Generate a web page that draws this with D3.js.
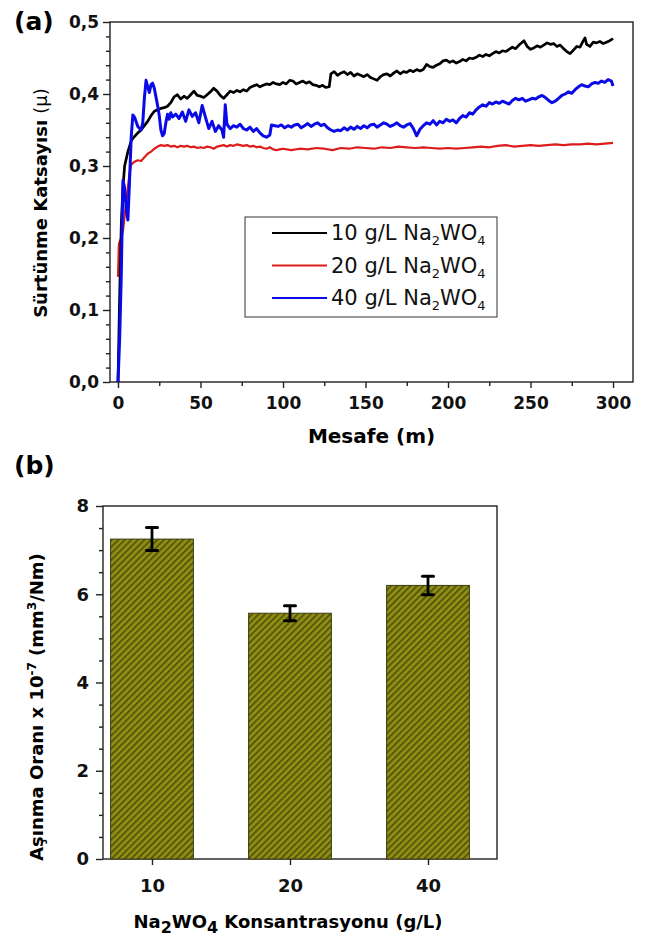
<!DOCTYPE html>
<html><head><meta charset="utf-8">
<script src="https://cdn.jsdelivr.net/npm/d3@7/dist/d3.min.js"></script>
<style>body{margin:0;background:#fff}svg{display:block}text{font-family:"DejaVu Sans",sans-serif}</style>
</head><body><svg id="c" width="649" height="937"></svg>
<script>
// ---------- DATA (a) ----------
const series10 = [[0,0],[1,0.12],[2,0.22],[3,0.27],[4,0.3],[6,0.32],[8,0.335],[10,0.341],[12,0.346],[14,0.35],[16,0.356],[18,0.362],[20,0.37],[22,0.376],[24,0.378],[26,0.38],[28,0.381],[30,0.383],[32,0.388],[34,0.396],[36,0.399],[38,0.393],[40,0.397],[42,0.394],[44,0.399],[46,0.404],[48,0.398],[50,0.397],[52,0.395],[54,0.399],[56,0.403],[58,0.408],[60,0.404],[62,0.398],[64,0.394],[66,0.399],[68,0.404],[70,0.402],[72,0.405],[74,0.403],[76,0.406],[78,0.404],[80,0.409],[82,0.411],[84,0.413],[86,0.41],[88,0.412],[90,0.414],[92,0.413],[94,0.416],[96,0.414],[98,0.413],[100,0.416],[102,0.414],[104,0.419],[106,0.418],[108,0.414],[110,0.416],[112,0.418],[114,0.415],[116,0.417],[118,0.413],[120,0.412],[122,0.41],[124,0.412],[126,0.409],[128,0.41],[129,0.428],[131,0.431],[133,0.426],[135,0.429],[137,0.431],[139,0.427],[141,0.43],[143,0.425],[145,0.428],[147,0.426],[149,0.424],[151,0.427],[153,0.423],[155,0.421],[157,0.419],[159,0.424],[161,0.427],[163,0.428],[165,0.425],[167,0.429],[169,0.432],[171,0.428],[173,0.431],[175,0.43],[177,0.433],[179,0.431],[181,0.434],[183,0.432],[185,0.434],[187,0.441],[189,0.438],[191,0.437],[193,0.44],[195,0.442],[197,0.446],[199,0.447],[201,0.444],[203,0.446],[205,0.443],[207,0.445],[209,0.448],[211,0.446],[213,0.45],[215,0.449],[217,0.451],[219,0.454],[221,0.452],[223,0.455],[225,0.453],[227,0.456],[229,0.459],[231,0.457],[233,0.46],[235,0.459],[237,0.462],[239,0.465],[241,0.463],[243,0.468],[245,0.472],[246,0.474],[248,0.466],[250,0.462],[252,0.464],[254,0.467],[256,0.465],[258,0.468],[260,0.471],[262,0.469],[264,0.47],[266,0.466],[268,0.468],[270,0.463],[272,0.459],[274,0.456],[276,0.461],[278,0.466],[280,0.465],[282,0.474],[283,0.478],[284,0.469],[286,0.466],[288,0.472],[290,0.471],[292,0.473],[294,0.47],[296,0.472],[298,0.474],[300,0.477]];
const series20 = [[0,0.146],[0.5,0.19],[1,0.195],[2,0.2],[3,0.21],[4,0.23],[5,0.25],[6,0.27],[7,0.29],[8,0.302],[10,0.306],[12,0.308],[14,0.307],[16,0.312],[18,0.317],[20,0.32],[22,0.324],[24,0.327],[26,0.329],[28,0.328],[30,0.329],[32,0.327],[34,0.328],[36,0.326],[38,0.328],[40,0.327],[42,0.328],[44,0.326],[46,0.327],[48,0.325],[50,0.326],[52,0.325],[54,0.327],[56,0.326],[58,0.324],[60,0.327],[62,0.328],[64,0.329],[66,0.327],[68,0.329],[70,0.328],[72,0.33],[74,0.329],[76,0.328],[78,0.329],[80,0.327],[82,0.328],[84,0.326],[86,0.327],[88,0.325],[90,0.324],[92,0.326],[94,0.323],[96,0.322],[98,0.323],[100,0.324],[105,0.322],[110,0.324],[115,0.323],[120,0.325],[125,0.324],[130,0.322],[135,0.325],[140,0.324],[145,0.326],[150,0.325],[155,0.324],[160,0.326],[165,0.325],[170,0.327],[175,0.326],[180,0.325],[185,0.326],[190,0.325],[195,0.324],[200,0.325],[205,0.324],[210,0.325],[215,0.326],[220,0.327],[225,0.326],[230,0.328],[235,0.329],[240,0.327],[245,0.328],[250,0.329],[255,0.328],[260,0.329],[265,0.33],[270,0.329],[275,0.33],[280,0.33],[285,0.331],[290,0.33],[295,0.331],[300,0.332]];
const series40 = [[0,0],[1,0.06],[2,0.15],[3,0.28],[4,0.27],[5,0.24],[6,0.225],[7,0.28],[8,0.34],[9,0.371],[10,0.368],[12,0.355],[14,0.35],[15,0.36],[16,0.395],[17,0.419],[18,0.41],[19,0.402],[20,0.413],[21,0.415],[22,0.408],[23,0.396],[24,0.384],[25,0.37],[26,0.35],[27,0.342],[28,0.345],[29,0.36],[30,0.372],[31,0.365],[32,0.374],[33,0.368],[35,0.372],[37,0.366],[39,0.375],[41,0.362],[43,0.378],[45,0.369],[47,0.374],[49,0.36],[51,0.384],[53,0.368],[55,0.352],[57,0.362],[59,0.348],[61,0.356],[63,0.35],[64,0.34],[65,0.385],[66,0.358],[68,0.352],[70,0.356],[72,0.354],[74,0.358],[76,0.352],[78,0.35],[80,0.354],[82,0.348],[84,0.352],[86,0.346],[88,0.342],[90,0.34],[92,0.343],[93,0.357],[95,0.356],[97,0.355],[99,0.357],[101,0.353],[103,0.356],[105,0.354],[107,0.357],[109,0.358],[111,0.353],[113,0.356],[115,0.359],[117,0.355],[119,0.358],[121,0.36],[123,0.356],[125,0.358],[127,0.353],[129,0.35],[131,0.348],[133,0.35],[135,0.349],[137,0.353],[139,0.35],[141,0.354],[143,0.351],[145,0.355],[147,0.352],[149,0.356],[151,0.353],[153,0.357],[155,0.358],[157,0.354],[159,0.357],[161,0.36],[163,0.358],[165,0.355],[167,0.357],[169,0.36],[171,0.356],[173,0.354],[175,0.357],[177,0.359],[179,0.352],[181,0.342],[183,0.351],[185,0.356],[187,0.36],[189,0.358],[191,0.363],[193,0.357],[195,0.362],[197,0.36],[199,0.365],[201,0.362],[203,0.364],[205,0.36],[207,0.366],[209,0.37],[211,0.368],[213,0.374],[215,0.372],[217,0.378],[219,0.382],[221,0.385],[223,0.383],[225,0.388],[227,0.386],[229,0.389],[231,0.387],[233,0.39],[235,0.388],[237,0.386],[239,0.391],[241,0.394],[243,0.392],[245,0.394],[247,0.39],[249,0.392],[251,0.394],[253,0.393],[255,0.396],[257,0.398],[259,0.395],[261,0.391],[263,0.388],[265,0.39],[267,0.394],[269,0.398],[271,0.4],[273,0.403],[275,0.401],[277,0.406],[279,0.41],[281,0.413],[283,0.411],[285,0.41],[287,0.414],[289,0.416],[291,0.415],[293,0.418],[295,0.416],[297,0.42],[299,0.418],[300,0.411]];
const legendLabels = ["10 g/L", "20 g/L", "40 g/L"];
const lineColors = ["#000000", "#dd1c1c", "#0a0ae6"];
const xTicksA = [0, 50, 100, 150, 200, 250, 300];
const yTicksA = [0, 0.1, 0.2, 0.3, 0.4, 0.5];

// ---------- DATA (b) ----------
const categories = ["10", "20", "40"];
const wearRate = [7.25, 5.57, 6.2];
const wearErr = [0.26, 0.17, 0.21];
const yTicksB = [0, 2, 4, 6, 8];

const svg = d3.select("#c");
const defs = svg.append("defs");
const pat = defs.append("pattern").attr("id","hatch").attr("patternUnits","userSpaceOnUse")
  .attr("width",4.6).attr("height",4.6).attr("patternTransform","rotate(45)");
pat.append("rect").attr("width",4.6).attr("height",4.6).attr("fill","#8e8e14");
pat.append("line").attr("x1",0.8).attr("y1",0).attr("x2",0.8).attr("y2",4.6).attr("stroke","#3b3b06").attr("stroke-width",1.2);

const fmt = d3.format(".1f");
const comma = d => fmt(d).replace(".", ",");

// ================= (a) =================
const A = {l:110, r:633, t:22, b:382};
const xA = d3.scaleLinear().domain([-4.85, 312.1]).range([A.l, A.r]);
const yA = d3.scaleLinear().domain([0, 0.5]).range([A.b, A.t]);

const gA = svg.append("g");
gA.append("rect").attr("x",A.l).attr("y",A.t).attr("width",A.r-A.l).attr("height",A.b-A.t)
  .attr("fill","none").attr("stroke","#222").attr("stroke-width",1.4);

const line = d3.line().x(d=>xA(d[0])).y(d=>yA(d[1]));
defs.append("clipPath").attr("id","clipA").append("rect")
  .attr("x",A.l).attr("y",A.t-3).attr("width",A.r-A.l).attr("height",A.b-A.t+3);
const widths = [2.7, 2.2, 3.0];
[series20, series10, series40].forEach((s,i)=>{
  const idx = [1,0,2][i];
  gA.append("path").datum(s).attr("d",line).attr("fill","none")
    .attr("stroke",lineColors[idx]).attr("stroke-width",widths[idx])
    .attr("stroke-linejoin","round").attr("clip-path","url(#clipA)");
});

// axes (a)
const axL = gA.append("g").attr("transform",`translate(${A.l},0)`)
  .call(d3.axisLeft(yA).tickValues(yTicksA).tickSize(7).tickPadding(4).tickFormat(comma));
const axLm = gA.append("g").attr("transform",`translate(${A.l},0)`)
  .call(d3.axisLeft(yA).tickValues(d3.range(0.02,0.5,0.02).filter(v=>Math.abs(v*10-Math.round(v*10))>1e-6)).tickSize(4).tickFormat(""));
const axB = gA.append("g").attr("transform",`translate(0,${A.b})`)
  .call(d3.axisBottom(xA).tickValues(xTicksA).tickSize(6).tickPadding(9));
const axBm = gA.append("g").attr("transform",`translate(0,${A.b})`)
  .call(d3.axisBottom(xA).tickValues([25,75,125,175,225,275]).tickSize(4).tickFormat(""));
[axL,axLm,axB,axBm].forEach(a=>{
  a.select(".domain").remove();
  a.selectAll("line").attr("stroke","#222").attr("stroke-width",1.4);
  a.selectAll("text").attr("font-size",17).attr("font-weight","bold").attr("fill","#111")
   .style("font-family","'DejaVu Sans',sans-serif");
});

// legend
const lg = gA.append("g");
lg.append("rect").attr("x",245).attr("y",217).attr("width",252).attr("height",100)
  .attr("fill","#fff").attr("stroke","#333").attr("stroke-width",1);
legendLabels.forEach((lab,i)=>{
  const yy = 233 + i*32.5;
  lg.append("line").attr("x1",272).attr("x2",327).attr("y1",yy).attr("y2",yy)
    .attr("stroke",lineColors[i]).attr("stroke-width",2.2);
  const t = lg.append("text").attr("x",331).attr("y",yy+7).attr("font-size",21).attr("fill","#111");
  t.append("tspan").text(lab + " Na");
  t.append("tspan").attr("font-size",13).attr("dy",5).text("2");
  t.append("tspan").attr("dy",-5).text("WO");
  t.append("tspan").attr("font-size",13).attr("dy",5).text("4");
});

// titles (a)
svg.append("text").attr("x",14).attr("y",30).attr("font-size",25).attr("font-weight","bold").text("(a)");
svg.append("text").attr("x",(A.l+A.r)/2).attr("y",443).attr("text-anchor","middle")
  .attr("font-size",20).attr("font-weight","bold").text("Mesafe (m)");
const ytA = svg.append("text").attr("transform","translate(47,203) rotate(-90)").attr("text-anchor","middle")
  .attr("font-size",18).attr("font-weight","bold");
ytA.append("tspan").text("Sürtünme Katsayısı ");
ytA.append("tspan").attr("font-weight","normal").text("(μ)");

// ================= (b) =================
const B = {l:103, r:497, t:506, b:859};
const xB = d3.scaleLinear().domain([0.645, 3.5]).range([B.l, B.r]);
const yB = d3.scaleLinear().domain([0, 8]).range([B.b, B.t]);
const gB = svg.append("g");
gB.append("rect").attr("x",B.l).attr("y",B.t).attr("width",B.r-B.l).attr("height",B.b-B.t)
  .attr("fill","none").attr("stroke","#222").attr("stroke-width",1.4);

const bw = xB(1.3)-xB(0.7);
gB.selectAll("rect.bar").data(wearRate).join("rect").attr("class","bar")
  .attr("x",(d,i)=>xB(i+1)-bw/2).attr("width",bw)
  .attr("y",d=>yB(d)).attr("height",d=>yB(0)-yB(d))
  .attr("fill","url(#hatch)").attr("stroke","#3a3a10").attr("stroke-width",1);

// error bars
wearRate.forEach((v,i)=>{
  const cx = xB(i+1), y1 = yB(v+wearErr[i]), y2 = yB(v-wearErr[i]);
  gB.append("line").attr("x1",cx).attr("x2",cx).attr("y1",y1).attr("y2",y2).attr("stroke","#000").attr("stroke-width",2.8);
  [y1,y2].forEach(yy=>gB.append("line").attr("x1",cx-5.5).attr("x2",cx+5.5).attr("y1",yy).attr("y2",yy)
    .attr("stroke","#000").attr("stroke-width",3).attr("stroke-linecap","round"));
});

const bL = gB.append("g").attr("transform",`translate(${B.l},0)`)
  .call(d3.axisLeft(yB).tickValues(yTicksB).tickSize(7).tickPadding(7).tickFormat(d3.format("d")));
const bLm = gB.append("g").attr("transform",`translate(${B.l},0)`)
  .call(d3.axisLeft(yB).tickValues(d3.range(0.5,8,0.5).filter(v=>v%2!==0)).tickSize(4).tickFormat(""));
const bB = gB.append("g").attr("transform",`translate(0,${B.b})`)
  .call(d3.axisBottom(xB).tickValues([1,2,3]).tickSize(6).tickPadding(14).tickFormat((d,i)=>categories[i]));
[bL,bLm,bB].forEach(a=>{
  a.select(".domain").remove();
  a.selectAll("line").attr("stroke","#222").attr("stroke-width",1.4);
  a.selectAll("text").attr("font-size",18).attr("font-weight","bold").attr("fill","#111")
   .style("font-family","'DejaVu Sans',sans-serif");
});

svg.append("text").attr("x",14).attr("y",474).attr("font-size",25).attr("font-weight","bold").text("(b)");
const xtB = svg.append("text").attr("x",288).attr("y",928).attr("text-anchor","middle")
  .attr("font-size",18).attr("font-weight","bold");
xtB.append("tspan").text("Na");
xtB.append("tspan").attr("dy",5).attr("font-size",16).text("2");
xtB.append("tspan").attr("dy",-5).text("WO");
xtB.append("tspan").attr("dy",5).attr("font-size",16).text("4");
xtB.append("tspan").attr("dy",-5).text(" Konsantrasyonu (g/L)");

const ytB = svg.append("text").attr("transform","translate(43,707) rotate(-90)").attr("text-anchor","middle")
  .attr("font-size",18).attr("font-weight","bold");
ytB.append("tspan").text("Aşınma Oranı x 10");
ytB.append("tspan").attr("dy",-7).attr("font-size",12).text("-7");
ytB.append("tspan").attr("dy",7).text(" (mm");
ytB.append("tspan").attr("dy",-7).attr("font-size",12).text("3");
ytB.append("tspan").attr("dy",7).text("/Nm)");
</script></body></html>
